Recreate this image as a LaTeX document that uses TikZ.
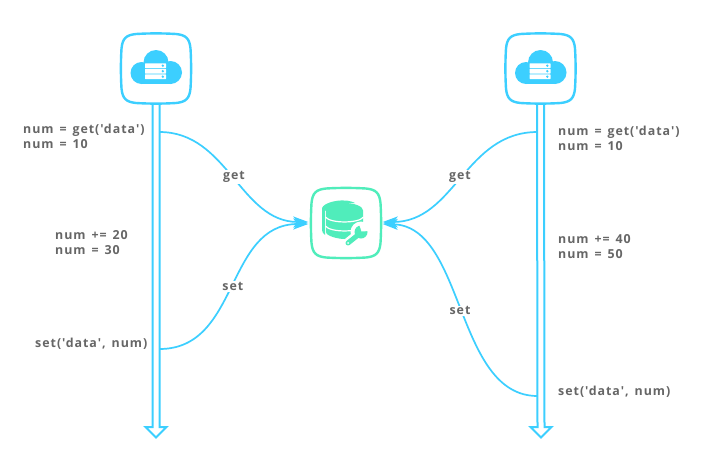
\documentclass[tikz,border=0pt]{standalone}
\usepackage{fontspec}
\setmainfont{Open Sans}
\newfontfamily\codefont[LetterSpace=8,WordSpace=1.4]{Open Sans}
\usetikzlibrary{arrows.meta,calc}
\definecolor{sky}{HTML}{3CCFFF}
\definecolor{mint}{HTML}{50EDBB}
\definecolor{txt}{HTML}{666666}
\newcommand{\squircle}[2]{%
\begin{scope}[shift={(#1.center)}]
\draw[line width=2.4pt,draw=#2,fill=white] (-20,-34.5) .. controls (-7,-35.3) and (7,-35.3) .. (20,-34.5)
 .. controls (30,-33.5) and (33.5,-30) .. (34.5,-20)
 .. controls (35.3,-7) and (35.3,7) .. (34.5,20)
 .. controls (33.5,30) and (30,33.5) .. (20,34.5)
 .. controls (7,35.3) and (-7,35.3) .. (-20,34.5)
 .. controls (-30,33.5) and (-33.5,30) .. (-34.5,20)
 .. controls (-35.3,7) and (-35.3,-7) .. (-34.5,-20)
 .. controls (-33.5,-30) and (-30,-33.5) .. (-20,-34.5) -- cycle;
\end{scope}}
\newcommand{\cloudicon}[1]{%
\begin{scope}[shift={(#1.center)}]
\fill[sky] (-14.5,4.5) circle (11);
\fill[sky] (14.5,4) circle (11.5);
\fill[sky] (0,-6) circle (12.5);
\fill[sky] (-14,-3) rectangle (14,15.5);
\foreach \yy in {-2.8,2.7,8.2}{
 \fill[white,rounded corners=0.5] (-11,\yy-2.3) rectangle (10,\yy+2.3);
 \fill[sky] (6.8,\yy) circle (1.3);
}
\end{scope}}
\newcommand{\dbicon}[1]{%
\begin{scope}[shift={(#1.center)}]
% back crescent
\fill[mint] (-24,-15) .. controls (-22,-20) and (-10,-23) .. (-2,-22.5) .. controls (3,-22.5) and (7,-21) .. (9,-20) -- (-10,-19) -- (-21,-12) -- (-21,12) .. controls (-23,10) and (-24,9) .. (-24,7) -- cycle;
% front stack
\fill[mint] (-20,-12.5) -- (-20,9) .. controls (-20,13) and (-8,16) .. (-1.5,16) .. controls (5,16) and (17,13) .. (17,9) -- (17,-12.5) -- cycle;
\fill[mint] (-1.5,-12.5) ellipse (18.5 and 7.5);
\draw[white,line width=1.2pt] (-20.5,-6) .. controls (-16,0.6) and (13,0.6) .. (17.5,-6);
\draw[white,line width=1.2pt] (-20.5,3) .. controls (-16,9.6) and (13,9.6) .. (17.5,3);
% wrench
\draw[white,line width=10pt,line cap=round] (2,20) -- (13,11);
\fill[white] (15,9) circle (10.5);
\draw[mint,line width=5pt,line cap=round] (2,20) -- (12,12);
\fill[mint] (15,9) circle (6.5);
\fill[white] (15.5,8.5) -- (13,1) -- (24,2) -- (23,8) -- cycle;
\fill[white] (2,20) circle (1);
\end{scope}}
\begin{document}
\begin{tikzpicture}[x=1pt,y=-1pt,
 rail/.style={draw=sky,line width=2pt,fill=white,line join=miter},
 link/.style={draw=sky,line width=1.7pt,-{Stealth[length=15pt,width=11pt,inset=4pt]}},
 code/.style={font=\codefont\bfseries\fontsize{12.4pt}{15pt}\selectfont,text=txt,align=left,anchor=west,inner sep=0pt},
 edgelabel/.style={font=\codefont\bfseries\fontsize{12.4pt}{13pt}\selectfont,text=txt,fill=white,inner sep=1pt},
 iconbox/.style={minimum width=69pt,minimum height=69pt,inner sep=0pt}]
\useasboundingbox (0,0) rectangle (720,458);
\fill[white] (0,0) rectangle (720,458);

\node[iconbox] (hostA) at (156,68.5) {};
\node[iconbox] (hostB) at (540.5,68.5) {};
\node[iconbox] (store) at (346,223) {};
\coordinate (endA) at (156,427);
\coordinate (endB) at (541,427);

\coordinate (a1) at (159.5,132);
\coordinate (a2) at (159.5,349);
\coordinate (b1) at (537.5,132);
\coordinate (b2) at (537.5,396);

% rails
\draw[rail] ($(hostA.south)+(-3.5,0)$) -- ($(endA)+(-3.5,0)$) -- ($(endA)+(-10.5,0)$) -- ($(endA)+(0,10.5)$) -- ($(endA)+(10.5,0)$) -- ($(endA)+(3.5,0)$) -- ($(hostA.south)+(3.5,0)$);
\draw[rail] ($(hostB.south)+(-3.5,0)$) -- ($(endB)+(-3.5,0)$) -- ($(endB)+(-10.5,0)$) -- ($(endB)+(0,10.5)$) -- ($(endB)+(10.5,0)$) -- ($(endB)+(3.5,0)$) -- ($(hostB.south)+(3.5,0)$);

\squircle{hostA}{sky}
\squircle{hostB}{sky}
\squircle{store}{mint}
\cloudicon{hostA}
\cloudicon{hostB}
\dbicon{store}

% connectors
\draw[link] (a1) .. controls (228,132) and (240,222) .. ($(store.west)+(-3,-1)$) node[pos=0.5,edgelabel] (getA) {get};
\draw[link] (a2) .. controls (240,349) and (225,224) .. ($(store.west)+(-3,1)$) node[pos=0.5,edgelabel] (setA) {set};
\draw[link] (b1) .. controls (465,132) and (455,222) .. ($(store.east)+(2,-1)$) node[pos=0.5,edgelabel] (getB) {get};
\draw[link] (b2) .. controls (455,396) and (465,226) .. ($(store.east)+(2,1)$) node[pos=0.5,edgelabel] (setB) {set};

% code labels
\node[code] (t1) at (23,136) {num = get('data')\\num = 10};
\node[code] (t2) at (55,243) {num += 20\\num = 30};
\node[code] (t3) at (35,343.5) {set('data', num)};
\node[code] (t4) at (558,138.5) {num = get('data')\\num = 10};
\node[code] (t5) at (558,247) {num += 40\\num = 50};
\node[code] (t6) at (558,391.5) {set('data', num)};
\end{tikzpicture}
\end{document}
